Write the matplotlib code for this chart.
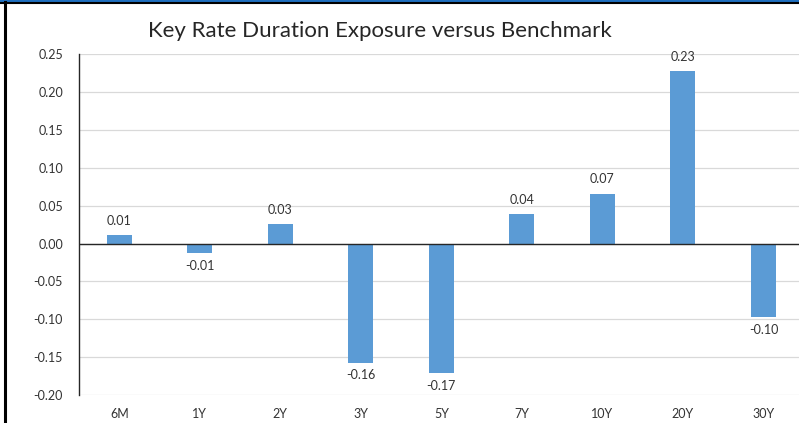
import matplotlib
matplotlib.use("Agg")
import matplotlib.pyplot as plt
from matplotlib.lines import Line2D

plt.rcParams.update({
    "font.family": ["Lato", "DejaVu Sans"],
    "axes.unicode_minus": False,
})

tenors = ["6M", "1Y", "2Y", "3Y", "5Y", "7Y", "10Y", "20Y", "30Y"]
exposure = [0.011, -0.012, 0.026, -0.157, -0.171, 0.039, 0.066, 0.228, -0.097]
bar_labels = ["0.01", "-0.01", "0.03", "-0.16", "-0.17", "0.04", "0.07", "0.23", "-0.10"]
yticks = [-0.20, -0.15, -0.10, -0.05, 0.00, 0.05, 0.10, 0.15, 0.20, 0.25]

BAR = "#5B9BD5"
GRID = "#D9D9D9"
TXT = "#333333"

fig = plt.figure(figsize=(7.99, 4.23), dpi=100)
ax = fig.add_axes([0.0989, 0.066, 0.907, 0.8056])

x = range(len(tenors))
ax.bar(x, exposure, width=0.31, color=BAR, zorder=3)

for xi, v, lab in zip(x, exposure, bar_labels):
    if v >= 0:
        ax.annotate(lab, (xi, v), xytext=(0, 6), textcoords="offset points",
                    ha="center", va="bottom", fontsize=9, color=TXT)
    else:
        ax.annotate(lab, (xi, v), xytext=(0, -5), textcoords="offset points",
                    ha="center", va="top", fontsize=9, color=TXT)

ax.set_xlim(-0.5, len(tenors) - 0.5)
ax.set_ylim(-0.20, 0.25)
ax.set_yticks(yticks)
ax.set_yticklabels([f"{t:.2f}" for t in yticks])
ax.set_xticks(list(x))
ax.set_xticklabels(tenors)
ax.grid(axis="y", color=GRID, lw=0.9, zorder=0)
ax.axhline(0, color="#262626", lw=1.0, zorder=4)

for s in ["top", "right", "bottom"]:
    ax.spines[s].set_visible(False)
ax.spines["left"].set_color("#262626")
ax.spines["left"].set_linewidth(1.0)
ax.tick_params(axis="y", length=0, pad=11.5, labelsize=9, labelcolor=TXT)
ax.tick_params(axis="x", length=0, pad=9, labelsize=9, labelcolor=TXT)

fig.text(0.476, 0.927, "Key Rate Duration Exposure versus Benchmark",
         ha="center", va="center", fontsize=16, color="#262626")

# frame remnants of the screenshot
fig.add_artist(Line2D([0, 1], [1 - 1 / 423, 1 - 1 / 423], color="#1F6FBF", lw=1.5,
                      transform=fig.transFigure))
fig.add_artist(Line2D([0, 1], [1 - 3 / 423, 1 - 3 / 423], color="black", lw=1.5,
                      transform=fig.transFigure))
fig.add_artist(Line2D([4.5 / 799, 4.5 / 799], [0, 1 - 2 / 423], color="black", lw=2.2,
                      transform=fig.transFigure))

fig.savefig("out.png", dpi=100)
